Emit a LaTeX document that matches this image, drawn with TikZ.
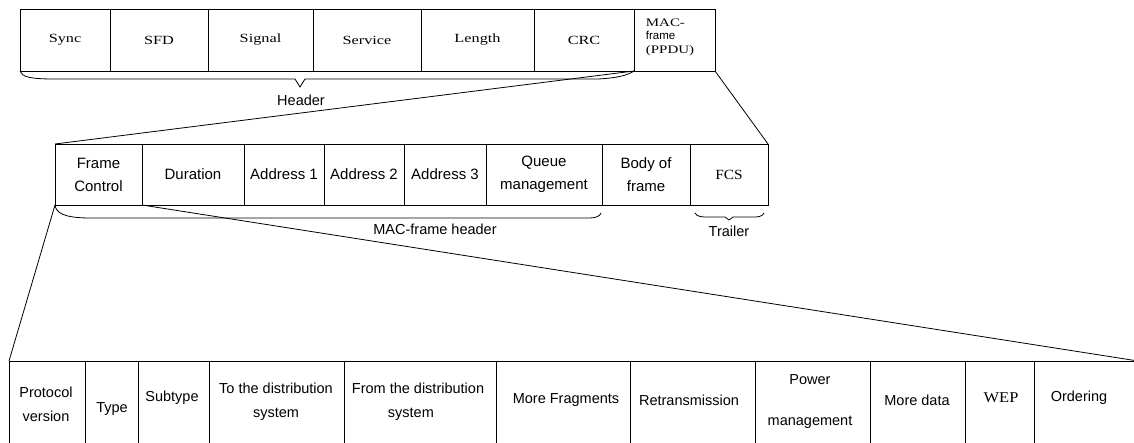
\documentclass[tikz,border=0pt]{standalone}
\usepackage{fontspec}
\setmainfont{Liberation Sans}
\newfontfamily\topserif[FakeStretch=1.3]{Liberation Serif}
\newfontfamily\midserif[FakeStretch=1.1]{Liberation Serif}
\begin{document}
\begin{tikzpicture}[x=1pt,y=-1pt,
  ln/.style={line width=0.8pt},
  tbox/.style={draw, ln, anchor=north west, inner sep=0pt, outer sep=0pt, minimum height=62pt, font=\topserif\fontsize{12.5}{14}\selectfont},
  mbox/.style={draw, ln, anchor=north west, inner sep=0pt, outer sep=0pt, minimum height=61pt, align=center, font=\fontsize{15}{23}\selectfont},
  bcell/.style={draw, line width=0.9pt, anchor=north west, inner sep=0pt, outer sep=0pt, minimum height=89pt},
  btxt/.style={align=center, inner sep=0pt, font=\fontsize{14.5}{24}\selectfont},
  lbl/.style={inner sep=0pt, font=\fontsize{14.5}{17}\selectfont}]
\useasboundingbox (0,0) rectangle (1134,443);
\clip (0,0) rectangle (1134,443);
\fill[white] (0,0) rectangle (1134,443);

% top row
\node[tbox, minimum width=90pt]  (sync) at (20,9)  {Sync};
\node[tbox, minimum width=98pt]  (sfd)  at (110,9) {SFD};
\node[tbox, minimum width=105pt] (sig)  at (208,9) {Signal};
\node[tbox, minimum width=108pt] (serv) at (313,9) {Service};
\node[tbox, minimum width=113pt] (len)  at (421,9) {Length};
\node[tbox, minimum width=100pt] (crc)  at (534,9) {CRC};
\node[tbox, minimum width=81pt]  (mac)  at (634,9) {};
\node[align=left, inner sep=0pt, font=\fontsize{11.5}{13.5}\selectfont] (mactxt) at (670,37)
  {{\topserif MAC-}\\frame\\{\topserif (PPDU)}};

% header brace
\draw[ln] (sync.south west) .. controls (22,77) and (30,79) .. (55,79) -- (295,79) -- (300,87) -- (305,79) -- (598,79)
  .. controls (618,78) and (628,75) .. (crc.south east);
\node[lbl] (hdr) at (301,100) {Header};

% middle row
\node[mbox, minimum width=87pt]  (fc)   at (55,144)  {Frame\\Control};
\node[mbox, minimum width=102pt] (dur)  at (142,144) {Duration};
\node[mbox, minimum width=80pt]  (a1)   at (244,144) {Address 1};
\node[mbox, minimum width=80pt]  (a2)   at (324,144) {Address 2};
\node[mbox, minimum width=82pt]  (a3)   at (404,144) {Address 3};
\node[mbox, minimum width=116pt] (qm)   at (486,144) {Queue\\management};
\node[mbox, minimum width=88pt]  (body) at (602,144) {Body of\\frame};
\node[mbox, minimum width=78pt, font=\midserif\fontsize{14}{16}\selectfont] (fcs) at (690,144) {FCS};

\draw[ln] (crc.south east) -- (fc.north west);
\draw[ln] (mac.south east) -- (fcs.north east);

% MAC-frame header brace
\draw[ln] (fc.south west) .. controls (56,212) and (62,218) .. (90,218) -- (590,218) .. controls (596,218) and (600,216) .. (601,213);
\node[lbl] (mhdr) at (435,229) {MAC-frame header};
% trailer brace
\draw[ln] (695,213) .. controls (697,217) and (702,217) .. (708,217) -- (725,217) -- (729,220) -- (733,217) -- (752,217)
  .. controls (758,217) and (762,217) .. (764,213);
\node[lbl] (trl) at (729,231) {Trailer};

% bottom row
\node[bcell, minimum width=76pt]  (pv)   at (9,361)    {};
\node[bcell, minimum width=53pt]  (type) at (85,361)   {};
\node[bcell, minimum width=71pt]  (sub)  at (138,361)  {};
\node[bcell, minimum width=135pt] (tods) at (209,361)  {};
\node[bcell, minimum width=152pt] (frds) at (344,361)  {};
\node[bcell, minimum width=134pt] (mf)   at (496,361)  {};
\node[bcell, minimum width=125pt] (retr) at (630,361)  {};
\node[bcell, minimum width=115pt] (pm)   at (755,361)  {};
\node[bcell, minimum width=95pt]  (md)   at (870,361)  {};
\node[bcell, minimum width=69pt]  (wep)  at (965,361)  {};
\node[bcell, minimum width=166pt] (ord)  at (1034,361) {};

\node[btxt] (tpv)   at (46,404)   {Protocol\\version};
\node[btxt] (ttype) at (112,409)  {Type};
\node[btxt] (tsub)  at (172,398)  {Subtype};
\node[btxt] (ttods) at (276,402)  {To the distribution\\system};
\node[btxt, align=left] (tfrds) at (418,402) {From the distribution\\\hspace*{36pt}system};
\node[btxt] (tmf)   at (566,400)  {More Fragments};
\node[btxt] (tretr) at (689,400)  {Retransmission};
\node[btxt] (tpm)   at (810,402)  {Power\\[17pt]management};
\node[btxt] (tmd)   at (917,400)  {More data};
\node[btxt, font=\midserif\fontsize{15}{17}\selectfont] (twep) at (1001,398) {WEP};
\node[btxt] (tord)  at (1079,398) {Ordering};

\coordinate (fend) at (1138,361);
\draw[ln] (fc.south west) -- (pv.north west);
\draw[ln] (fc.south east) -- (fend);
\end{tikzpicture}
\end{document}
